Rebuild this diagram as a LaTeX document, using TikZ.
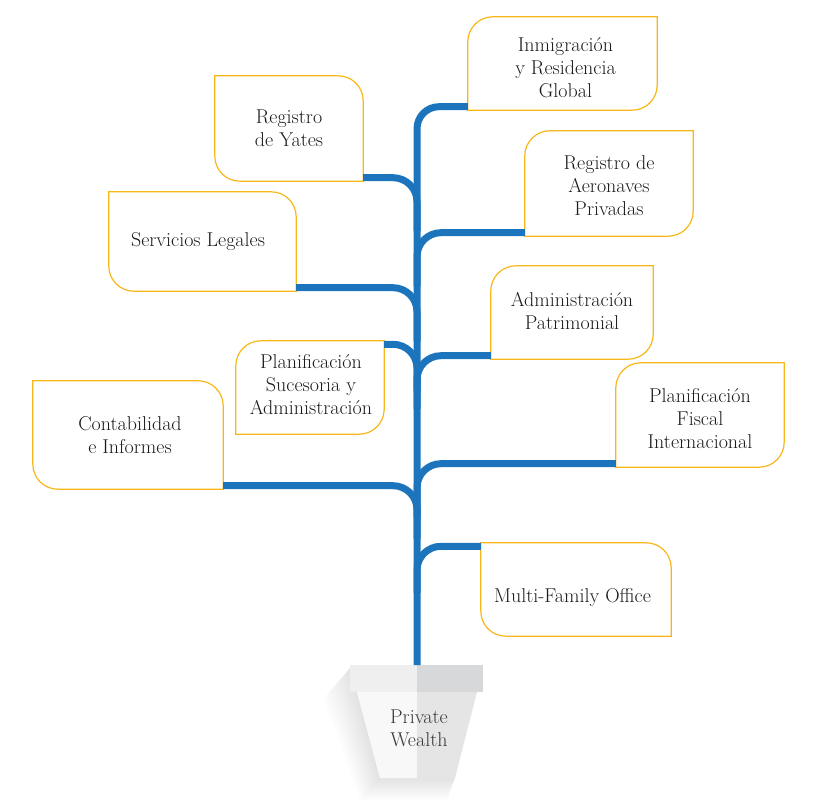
\documentclass[tikz,border=0pt]{standalone}
\usetikzlibrary{calc}
\definecolor{stemblue}{HTML}{1C75BC}
\definecolor{edgegold}{HTML}{F7B718}
\definecolor{txt}{HTML}{1A1A1A}
\definecolor{rimL}{HTML}{EFEFEF}
\definecolor{rimR}{HTML}{D7D8DA}
\definecolor{potL}{HTML}{F8F8F8}
\definecolor{potR}{HTML}{E5E5E5}
\newcommand\borderA[1]{% top-left and bottom-right rounded
  \draw[edge] (#1.north east) -- (#1.north west) -- (#1.south west);
  \draw[edge] (#1.south west) -- (#1.south east) -- (#1.north east);}
\newcommand\borderB[1]{% top-right and bottom-left rounded
  \draw[edge] (#1.north west) -- (#1.north east) -- (#1.south east);
  \draw[edge] (#1.south east) -- (#1.south west) -- (#1.north west);}
\begin{document}
\begin{tikzpicture}[x=1pt,y=-1pt,
  boxn/.style 2 args={inner sep=0pt, minimum width=#1 pt, minimum height=#2 pt},
  lbl/.style={align=center, inner sep=0pt, text=txt, font=\fontsize{20}{23}\selectfont},
  edge/.style={draw=edgegold, line width=1.2pt, rounded corners=25pt, line cap=rect},
  branch/.style={draw=stemblue, line width=7pt, rounded corners=24pt}]
\useasboundingbox (0,0) rectangle (820,802);

% boxes
\node[boxn={189}{93}]  (inm)  at (562.5,63.5) {};
\node[boxn={148}{105}] (yat)  at (289,128.5) {};
\node[boxn={168}{105}] (aer)  at (609,183.5) {};
\node[boxn={187}{99}]  (ser)  at (202.5,241.5) {};
\node[boxn={162}{93}]  (pat)  at (572,312.5) {};
\node[boxn={148}{93}]  (suc)  at (310,387.5) {};
\node[boxn={168}{104}] (fis)  at (700,415) {};
\node[boxn={190}{108}] (con)  at (128,435) {};
\node[boxn={190}{93}]  (mfo)  at (576,589.5) {};

\borderA{inm}
\borderB{yat}
\borderA{aer}
\borderB{ser}
\borderA{pat}
\borderA{suc}
\borderA{fis}
\borderB{con}
\borderB{mfo}

% labels
\node[lbl] (tinm) at ($(inm.center)+(3,4.5)$) {Inmigración\\y Residencia\\Global};
\node[lbl] (tyat) at ($(yat.center)+(0,0)$) {Registro\\de Yates};
\node[lbl] (taer) at ($(aer.center)+(0,2.5)$) {Registro de\\Aeronaves\\Privadas};
\node[lbl] (tser) at ($(ser.center)+(-4.5,0)$) {Servicios Legales};
\node[lbl] (tpat) at ($(pat.center)+(0,-1)$) {Administración\\Patrimonial};
\node[lbl] (tsuc) at ($(suc.center)+(1,-3)$) {Planificación\\Sucesoria y\\Administración};
\node[lbl] (tfis) at ($(fis.center)+(0,4)$) {Planificación\\Fiscal\\Internacional};
\node[lbl] (tcon) at ($(con.center)+(2,0)$) {Contabilidad\\e Informes};
\node[lbl] (tmfo) at ($(mfo.center)+(-3.5,8.5)$) {Multi-Family Office};

% pot
\coordinate (potc) at (417,665);
\foreach \s in {1,...,14}{
  \fill[black, opacity=0.006]
    (350,668) -- ($(350,668)+(-1.9*\s,2.2*\s)$) -- ($(380,778)+(-1.4*\s,1.6*\s)$)
    -- ($(455,778)+(-0.6*\s,1.6*\s)$) -- (455,778) -- (380,778) -- (357,692) -- (350,692) -- cycle;
}
\fill[potL] (357,692) -- (417,692) -- (417,778) -- (380,778) -- cycle;
\fill[potR] (417,692) -- (477,692) -- (455,778) -- (417,778) -- cycle;
\fill[rimL] (350,665) rectangle (417,692);
\fill[rimR] (417,665) rectangle (483,692);
\node[lbl, text=black!78] (pw) at (419,728) {Private\\Wealth};

% stem and branches
\draw[branch, rounded corners=22pt] ([yshift=3.5pt]inm.south west) -| (potc);
\draw[branch] ([yshift=3.5pt]yat.south east) -| ($(potc|-yat.south)+(0,50)$);
\draw[branch] ([yshift=3.5pt]aer.south west) -| ($(potc|-aer.south)+(0,50)$);
\draw[branch] ([yshift=3.5pt]ser.south east) -| ($(potc|-ser.south)+(0,50)$);
\draw[branch] ([yshift=3.5pt]pat.south west) -| ($(potc|-pat.south)+(0,50)$);
\draw[branch] ([yshift=-3.5pt]suc.north east) -| ($(potc|-suc.north)+(0,50)$);
\draw[branch] ([yshift=3.5pt]fis.south west) -| ($(potc|-fis.south)+(0,50)$);
\draw[branch] ([yshift=3.5pt]con.south east) -| ($(potc|-con.south)+(0,50)$);
\draw[branch] ([yshift=-3.5pt]mfo.north west) -| ($(potc|-mfo.north)+(0,50)$);
\end{tikzpicture}
\end{document}
